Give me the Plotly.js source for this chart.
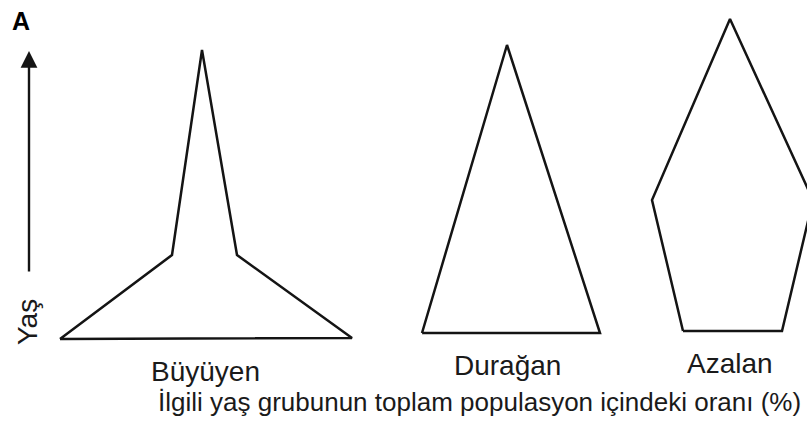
<!DOCTYPE html>
<html>
<head>
<meta charset="utf-8">
<script src="https://cdn.plot.ly/plotly-3.0.1.min.js"></script>
<style>html,body{margin:0;padding:0;background:#fff;}#chart{width:807px;height:437px;}</style>
</head>
<body>
<div id="chart"></div>
<script>
// Pyramid outlines: share of population (x) vs age (y)
const pyramidNames = ["Büyüyen", "Durağan", "Azalan"];
const buyuyenShare = [60, 172, 202, 237, 352, 60];
const buyuyenAge   = [98, 182, 387, 182, 99, 98];
const duraganShare = [422, 507, 600, 422];
const duraganAge   = [104, 392, 104, 104];
const azalanShare  = [683, 652, 730, 813, 782, 683];
const azalanAge    = [106, 237, 418, 237, 106, 106];
const axisLabelY = "Yaş";
const axisLabelX = "İlgili yaş grubunun toplam populasyon içindeki oranı (%)";
const panelLetter = "A";

const lineStyle = {color: "#141414", width: 2.5};
const series = [
  [buyuyenShare, buyuyenAge],
  [duraganShare, duraganAge],
  [azalanShare, azalanAge]
];
const traces = series.map((s, i) => ({
  type: "scatter", mode: "lines", x: s[0], y: s[1], name: pyramidNames[i],
  line: lineStyle, hoverinfo: "skip", showlegend: false
}));

const font = {family: "Liberation Sans, Arial, sans-serif", color: "#1a1a1a"};
const labelPos = [[205, 66], [507, 72], [730, 74]];
const annotations = pyramidNames.map((n, i) => ({
  x: labelPos[i][0], y: labelPos[i][1], xref: "x", yref: "y", text: n,
  showarrow: false, font: Object.assign({}, font, {size: 28})
}));
annotations.push({
  x: 803, y: 35, xref: "x", yref: "y", xanchor: "right", text: axisLabelX,
  showarrow: false, font: Object.assign({}, font, {size: 26})
});
annotations.push({
  x: 27, y: 115, xref: "x", yref: "y", text: axisLabelY, textangle: -90,
  showarrow: false, font: Object.assign({}, font, {size: 28})
});
annotations.push({
  x: 21, y: 416, xref: "x", yref: "y", text: "<b>" + panelLetter + "</b>",
  showarrow: false, font: Object.assign({}, font, {size: 25, color: "#000"})
});
// Age axis arrow
annotations.push({
  x: 29, y: 386, ax: 29, ay: 164, xref: "x", yref: "y", axref: "x", ayref: "y",
  text: "", showarrow: true, arrowhead: 2, arrowsize: 1.4, arrowwidth: 2.4, arrowcolor: "#141414"
});

const layout = {
  width: 807, height: 437,
  margin: {l: 0, r: 0, t: 0, b: 0},
  paper_bgcolor: "#ffffff", plot_bgcolor: "#ffffff",
  xaxis: {range: [0, 807], visible: false, fixedrange: true},
  yaxis: {range: [0, 437], visible: false, fixedrange: true},
  annotations: annotations,
  showlegend: false
};
Plotly.newPlot("chart", traces, layout, {displayModeBar: false, staticPlot: true});
</script>
</body>
</html>
